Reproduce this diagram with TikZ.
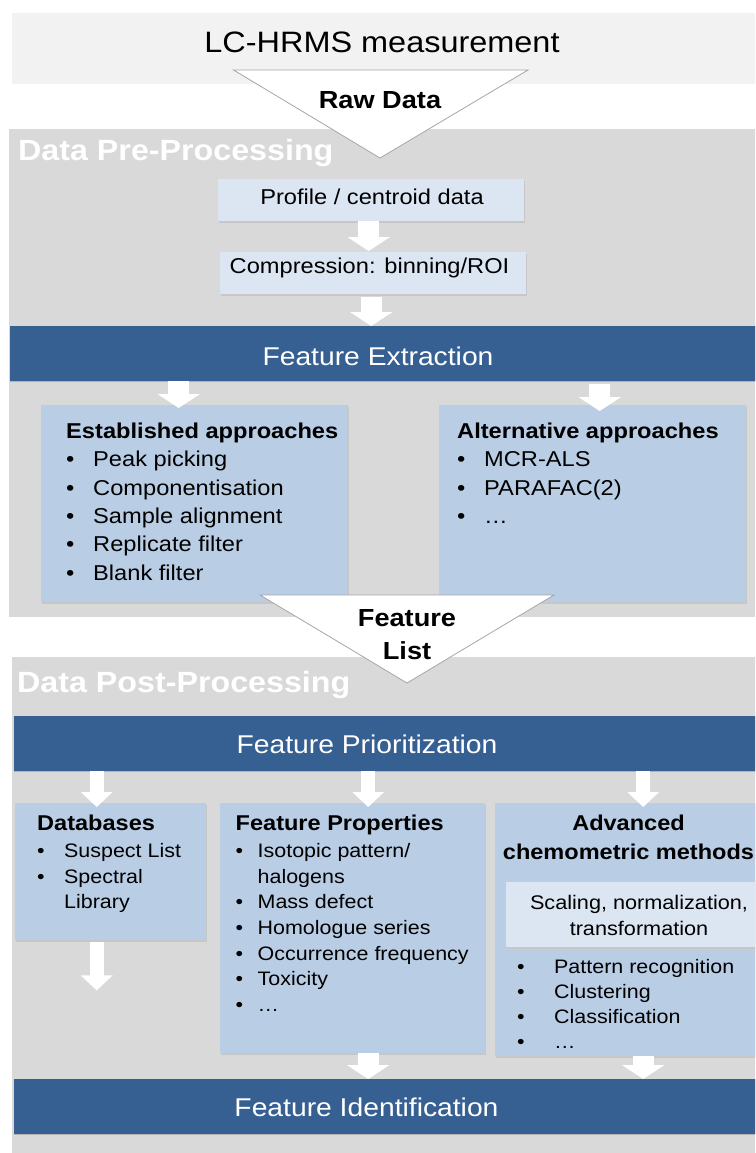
\documentclass[tikz,border=0pt]{standalone}
\usepackage{fontspec}
\setmainfont[FakeStretch=1.1]{Liberation Sans}
\usetikzlibrary{arrows.meta,positioning,shadows}

\definecolor{bandblue}{HTML}{376092}
\definecolor{boxblue}{HTML}{B9CDE5}
\definecolor{paleblue}{HTML}{DCE6F2}
\definecolor{bandgray}{HTML}{D9D9D9}
\definecolor{topgray}{HTML}{F2F2F2}

\newcommand{\bul}[1]{\makebox[#1pt][l]{\textbullet}}
\newcommand{\fs}[2]{\fontsize{#1}{#2}\selectfont}

\begin{document}
\begin{tikzpicture}[
    x=1pt, y=-1pt,
    band/.style={rectangle, anchor=north west, inner sep=0pt, fill=bandgray},
    blueband/.style={band, fill=bandblue, minimum height=55pt, general shadow={fill=black!30, shadow yshift=-1.2pt}},
    stepbox/.style={rectangle, anchor=north west, inner sep=0pt, fill=boxblue, general shadow={fill=black!22, shadow yshift=-1.5pt, shadow xshift=0.6pt}},
    palebox/.style={stepbox, fill=paleblue},
    bandtext/.style={inner sep=0pt, anchor=base, text=white, font=\fs{25.7}{30}},
    sectitle/.style={inner sep=0pt, anchor=base west, text=white, font=\fs{29.3}{34}\bfseries},
    listtext/.style={inner sep=0pt, anchor=north west, align=left},
    tri/.style={fill=white, draw=black!35, line width=0.8pt, line join=miter},
    bigarrow/.style={draw=white, line width=21pt, -{Triangle[width=42pt, length=14pt]}},
    smallarrow/.style={draw=white, line width=14pt, -{Triangle[width=31pt, length=15pt]}}
]
\useasboundingbox (0,0) rectangle (755,1153);
\fill[white] (0,0) rectangle (755,1153);
\clip (0,0) rectangle (755,1153);

% Background bands
\node[band, fill=topgray, minimum width=750pt, minimum height=71pt] (meas) at (12,13) {};
\node[band, minimum width=750pt, minimum height=488pt] (pre) at (9,129) {};
\node[band, minimum width=750pt, minimum height=500pt] (post) at (12,657) {};

\node[inner sep=0pt, font=\fs{29.5}{34}] (meas-t) at (382,42) {LC-HRMS measurement};
\node[sectitle] (pre-t) at (18,160) {Data Pre-Processing};
\node[sectitle] (post-t) at (17,692) {Data Post-Processing};

% Pre-processing
\node[palebox, minimum width=306pt, minimum height=42pt] (pcd) at (218,179) {};
\node[inner sep=0pt, anchor=base, font=\fs{21.5}{26}] (pcd-t) at (372,204) {Profile / centroid data};
\node[palebox, minimum width=306pt, minimum height=42pt] (cmp) at (220,252) {};
\node[inner sep=0pt, anchor=base, font=\fs{21.5}{26}] (cmp-t) at (369.5,273) {Compression: binning/ROI};

% Feature extraction
\node[blueband, minimum width=750pt] (fx) at (10,326) {};
\node[bandtext] (fx-t) at (378,365) {Feature Extraction};

\node[stepbox, minimum width=307pt, minimum height=197pt] (est) at (41,405) {};
\node[stepbox, minimum width=307pt, minimum height=197pt] (alt) at (439,405) {};
\node[listtext, font=\fs{21.5}{28.4}] (est-t) at (66,422.5) {\textbf{Established approaches}\\
    \bul{27}Peak picking\\
    \bul{27}Componentisation\\
    \bul{27}Sample alignment\\
    \bul{27}Replicate filter\\
    \bul{27}Blank filter};
\node[listtext, font=\fs{21.5}{28.4}] (alt-t) at (457,422.5) {\textbf{Alternative approaches}\\
    \bul{27}MCR-ALS\\
    \bul{27}PARAFAC(2)\\
    \bul{27}…};

% Post-processing
\node[blueband, minimum width=745pt] (fp) at (14,716) {};
\node[bandtext] (fp-t) at (367,753) {Feature Prioritization};

\node[stepbox, minimum width=191pt, minimum height=137pt] (db) at (15,803) {};
\node[stepbox, minimum width=265pt, minimum height=250pt] (props) at (220,803) {};
\node[stepbox, minimum width=267pt, minimum height=253pt] (adv) at (495,803) {};
\node[palebox, minimum width=260pt, minimum height=65pt] (scl) at (506,882) {};

\node[listtext, font=\fs{19.5}{25.7}] (db-t) at (37,814.6) {{\fs{21.4}{25.7}\bfseries Databases}\\[1.3pt]
    \bul{27}Suspect List\\
    \bul{27}Spectral\\
    \hspace*{27pt}Library};
\node[listtext, font=\fs{19.5}{25.7}] (props-t) at (235.5,814.6) {{\fs{21.4}{25.7}\bfseries Feature Properties}\\[1.3pt]
    \bul{22}Isotopic pattern/\\
    \hspace*{22pt}halogens\\
    \bul{22}Mass defect\\
    \bul{22}Homologue series\\
    \bul{22}Occurrence frequency\\
    \bul{22}Toxicity\\
    \bul{22}…};
\node[inner sep=0pt, anchor=north, align=center, font=\fs{21.4}{29}\bfseries] (adv-t) at (628.5,814.6) {Advanced\\chemometric methods};
\node[inner sep=0pt, anchor=north, align=center, font=\fs{19.7}{26}] (scl-t) at (639,895) {Scaling, normalization,\\transformation};
\node[listtext, font=\fs{19.5}{25}] (adv-l) at (517,959) {\bul{37}Pattern recognition\\
    \bul{37}Clustering\\
    \bul{37}Classification\\
    \bul{37}…};

\node[blueband, minimum width=745pt] (fi) at (14,1079) {};
\node[bandtext] (fi-t) at (366.5,1116) {Feature Identification};

% Arrows
\draw[bigarrow] ([xshift=-2.5pt]pcd.south) -- ([xshift=-2.5pt, yshift=1pt]pcd.south |- cmp.north);
\draw[bigarrow] ([xshift=-2pt, yshift=-3pt]cmp.south) -- ([xshift=-2pt]cmp.south |- fx.north);
\draw[bigarrow] ([xshift=-16pt]est.north |- fx.south) -- ([xshift=-16pt, yshift=-3pt]est.north);
\draw[bigarrow] ([xshift=7pt, yshift=-3pt]alt.north |- fx.south) -- ([xshift=7pt, yshift=-6pt]alt.north);
\draw[smallarrow] ([xshift=-14pt]db.north |- fp.south) -- ([xshift=-14pt, yshift=-4pt]db.north);
\draw[smallarrow] ([xshift=15.5pt]props.north |- fp.south) -- ([xshift=15.5pt, yshift=-4pt]props.north);
\draw[smallarrow] ([xshift=14.5pt]adv.north |- fp.south) -- ([xshift=14.5pt, yshift=-4pt]adv.north);
\coordinate (dbend) at ([xshift=-14pt, yshift=-50pt]db.south);
\draw[smallarrow] ([xshift=-14pt, yshift=-2pt]db.south) -- (dbend);
\draw[bigarrow] ([xshift=15.5pt]props.south) -- ([xshift=15.5pt]props.south |- fi.north);
\draw[bigarrow] ([xshift=14.5pt]adv.south) -- ([xshift=14.5pt]adv.south |- fi.north);

% Triangles
\draw[tri] (233.5,70) coordinate (raw-l) -- (528,70) coordinate (raw-r) -- (380,158) coordinate (raw-b) -- cycle;
\node[inner sep=0pt, anchor=base, font=\fs{24.7}{30}\bfseries] (raw-t) at (380,109) {Raw Data};
\draw[tri] (260,595) coordinate (fl-l) -- (554,595) coordinate (fl-r) -- (407,683) coordinate (fl-b) -- cycle;
\node[inner sep=0pt, anchor=north, align=center, font=\fs{24.7}{33}\bfseries] (fl-t) at (407,609.3) {Feature\\List};

\end{tikzpicture}
\end{document}
